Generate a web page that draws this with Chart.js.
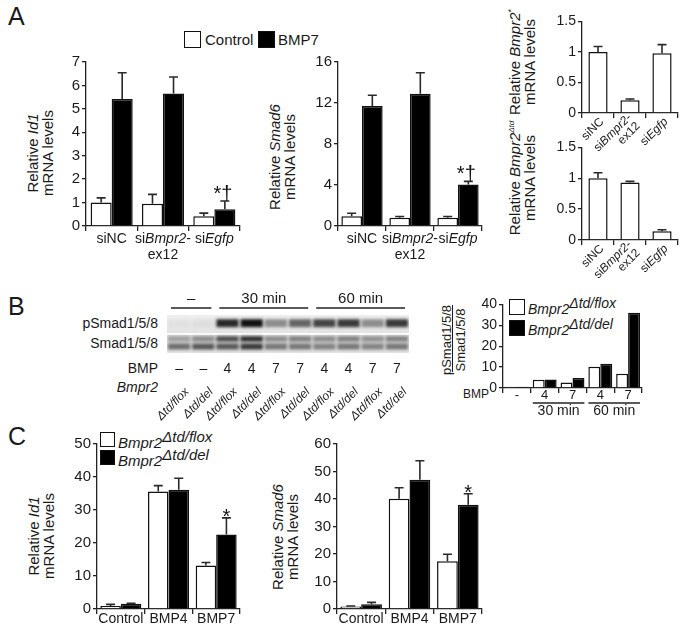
<!DOCTYPE html>
<html>
<head>
<meta charset="utf-8">
<script src="https://cdn.jsdelivr.net/npm/chart.js@4.4.0/dist/chart.umd.min.js"></script>
<style>
  body { margin: 0; background: #fff; width: 683px; height: 638px; position: relative; overflow: hidden;
         font-family: "Liberation Sans", Arial, sans-serif; color: #1a1a1a; }
  .box { position: absolute; }
  .txt { position: absolute; white-space: nowrap; font-size: 14px; line-height: 1; }
  .letter { position: absolute; font-size: 25px; line-height: 1; }
  .ytitle { position: absolute; white-space: nowrap; font-size: 15px; line-height: 15px; text-align: center;
            transform: translate(-50%, -50%) rotate(-90deg); }
  .sw { position: absolute; box-sizing: border-box; border: 1.5px solid #111; }
  .sup { position: relative; top: -6px; }
</style>
</head>
<body>

<div class="letter" style="left:8px;top:4px">A</div>
<div class="letter" style="left:8px;top:294px">B</div>
<div class="letter" style="left:8px;top:424px">C</div>

<!-- legend A -->
<div class="sw" style="left:184px;top:31px;width:17px;height:17px;background:#fff"></div>
<div class="txt" style="left:205px;top:32px;font-size:15px">Control</div>
<div class="sw" style="left:258px;top:31px;width:17px;height:17px;background:#000"></div>
<div class="txt" style="left:278px;top:32px;font-size:15px">BMP7</div>

<div class="ytitle" style="left:40px;top:153px">Relative <i>Id1</i><br>mRNA levels</div>
<div class="ytitle" style="left:282px;top:157px">Relative <i>Smad6</i><br>mRNA levels</div>
<div class="ytitle" style="left:520px;top:62px">Relative <i>Bmpr2</i><sup style="font-size:9px">*</sup><br>mRNA levels</div>
<div class="ytitle" style="left:520px;top:178px">Relative <i>Bmpr2</i><sup style="font-size:8px"><i>Δtd</i></sup><br>mRNA levels</div>

<div class="box" style="left:56px;top:51px;width:189px;height:220px"><canvas id="aId1"></canvas></div>
<div class="box" style="left:308px;top:51px;width:179px;height:220px"><canvas id="aSmad6"></canvas></div>
<div class="box" style="left:552px;top:11px;width:130px;height:142px"><canvas id="aStar"></canvas></div>
<div class="box" style="left:552px;top:137px;width:130px;height:143px"><canvas id="aTd"></canvas></div>

<!-- panel B -->
<div class="txt" style="right:525px;top:316px">pSmad1/5/8</div>
<div class="txt" style="right:525px;top:336px">Smad1/5/8</div>
<div class="txt" style="right:525px;top:361px">BMP</div>
<div class="txt" style="right:525px;top:380px"><i>Bmpr2</i></div>
<div class="box" style="left:150px;top:288px;width:270px;height:135px"><canvas id="blot"></canvas></div>

<div class="ytitle" style="left:454px;top:340px;font-size:13px;line-height:14px"><span style="text-decoration:underline">pSmad1/5/8</span><br>Smad1/5/8</div>
<div class="txt" style="left:463px;top:388px;font-size:12px">BMP</div>
<div class="sw" style="left:509px;top:299px;width:16px;height:16px;background:#fff"></div>
<div class="txt" style="left:528px;top:302px"><i>Bmpr2</i><span class="sup"><i>Δtd/flox</i></span></div>
<div class="sw" style="left:509px;top:320px;width:16px;height:16px;background:#000"></div>
<div class="txt" style="left:528px;top:323px"><i>Bmpr2</i><span class="sup"><i>Δtd/del</i></span></div>
<div class="box" style="left:473px;top:294px;width:174px;height:129px"><canvas id="bRatio"></canvas></div>

<!-- panel C -->
<div class="sw" style="left:100px;top:432px;width:15px;height:15px;background:#fff"></div>
<div class="txt" style="left:118px;top:435px;font-size:15px"><i>Bmpr2</i><span class="sup"><i>Δtd/flox</i></span></div>
<div class="sw" style="left:100px;top:450px;width:15px;height:15px;background:#000"></div>
<div class="txt" style="left:118px;top:453px;font-size:15px"><i>Bmpr2</i><span class="sup"><i>Δtd/del</i></span></div>
<div class="ytitle" style="left:41px;top:536px">Relative <i>Id1</i><br>mRNA levels</div>
<div class="ytitle" style="left:285px;top:537px">Relative <i>Smad6</i><br>mRNA levels</div>
<div class="box" style="left:67px;top:433px;width:178px;height:201px"><canvas id="cId1"></canvas></div>
<div class="box" style="left:307px;top:433px;width:180px;height:201px"><canvas id="cSmad6"></canvas></div>

<script>
// ---- data ----
const siLabels = ['siNC', 'si<i>Bmpr2</i>-|ex12', 'si<i>Egfp</i>'];

const id1Ctrl = [1.0, 0.95, 0.42];
const id1CtrlErr = [0.2, 0.4, 0.13];
const id1Bmp7 = [5.42, 5.66, 0.72];
const id1Bmp7Err = [1.12, 0.7, 0.35];
const id1Marks = ['', '', '*†'];

const smad6Ctrl = [0.95, 0.8, 0.8];
const smad6CtrlErr = [0.3, 0.12, 0.12];
const smad6Bmp7 = [11.7, 12.9, 4.05];
const smad6Bmp7Err = [1.05, 2.05, 0.3];
const smad6Marks = ['', '', '*†'];

const bmpr2Star = [1.0, 0.21, 0.98];
const bmpr2StarErr = [0.09, 0.02, 0.14];
const bmpr2Td = [1.0, 0.93, 0.14];
const bmpr2TdErr = [0.09, 0.02, 0.025];

const laneGenotype = ['Δtd/flox', 'Δtd/del', 'Δtd/flox', 'Δtd/del', 'Δtd/flox', 'Δtd/del',
                      'Δtd/flox', 'Δtd/del', 'Δtd/flox', 'Δtd/del'];
const laneBmp = ['–', '–', '4', '4', '7', '7', '4', '4', '7', '7'];
const laneGroups = [['–', 0, 1], ['30 min', 2, 5], ['60 min', 6, 9]];
const pSmadBand = [0.03, 0.05, 0.88, 0.98, 0.42, 0.6, 0.75, 0.8, 0.42, 0.8];
const smadUpper = [0.3, 0.4, 0.7, 0.85, 0.4, 0.45, 0.4, 0.45, 0.38, 0.45];
const smadLower = [0.55, 0.65, 0.65, 0.8, 0.5, 0.5, 0.45, 0.5, 0.45, 0.5];

const ratioLabels = ['-', '4', '7', '4', '7'];
const ratioGroups = [['30 min', 1, 2], ['60 min', 3, 4]];
const ratioFlox = [0.6, 4.0, 2.6, 10.2, 6.8];
const ratioDel = [0.6, 4.1, 4.8, 11.6, 36.0];

const cLabels = ['Control', 'BMP4', 'BMP7'];
const cId1Flox = [0.9, 35.6, 13.2];
const cId1FloxErr = [0.5, 1.8, 0.9];
const cId1Del = [1.6, 36.1, 22.6];
const cId1DelErr = [0.15, 3.5, 5.0];
const cId1Marks = ['', '', '*'];
const cSmad6Flox = [0.9, 40.1, 17.4];
const cSmad6FloxErr = [0.2, 4.0, 2.5];
const cSmad6Del = [1.7, 47.0, 37.9];
const cSmad6DelErr = [0.7, 6.9, 4.0];
const cSmad6Marks = ['', '', '*'];

// ---- helpers ----
const FAM = '"Liberation Sans", Arial, sans-serif';
Chart.defaults.font.family = FAM;
Chart.defaults.font.size = 14;
Chart.defaults.color = '#1a1a1a';
Chart.defaults.animation = false;
Chart.defaults.plugins.legend.display = false;
Chart.defaults.plugins.tooltip.enabled = false;

function fontStr(italic, size) {
  return (italic ? 'italic ' : '') + size + 'px ' + FAM;
}

function parseRich(line) {
  return line.split(/(<i>.*?<\/i>)/).filter(s => s).map(s =>
    s.startsWith('<i>') ? { t: s.slice(3, -4), i: true } : { t: s, i: false });
}

// draws a label with italic parts, anchored at 0,0 (centre, or right end when rotated)
function drawRich(ctx, text, size, lh, rightAlign, centreBlock, forceItalic) {
  const lines = text.split('|');
  const shift = centreBlock ? -(lines.length - 1) * lh / 2 : 0;
  ctx.textBaseline = 'middle';
  ctx.textAlign = 'left';
  lines.forEach((line, li) => {
    const segs = parseRich(line);
    let w = 0;
    segs.forEach(s => { ctx.font = fontStr(s.i || forceItalic, size); s.w = ctx.measureText(s.t).width; w += s.w; });
    let x = rightAlign ? -w : -w / 2;
    segs.forEach(s => {
      ctx.font = fontStr(s.i || forceItalic, size);
      ctx.fillText(s.t, x, shift + li * lh);
      x += s.w;
    });
  });
}

const errorBars = {
  id: 'errorBars',
  afterDatasetsDraw(chart) {
    const ctx = chart.ctx, ys = chart.scales.y;
    chart.data.datasets.forEach((ds, di) => {
      const meta = chart.getDatasetMeta(di);
      meta.data.forEach((bar, i) => {
        let top = bar.y;
        if (ds.errors) {
          top = ys.getPixelForValue(ds.data[i] + ds.errors[i]);
          ctx.save();
          ctx.strokeStyle = '#2a2a2a';
          ctx.lineWidth = 1.6;
          ctx.beginPath();
          ctx.moveTo(bar.x, bar.y);
          ctx.lineTo(bar.x, top);
          ctx.moveTo(bar.x - 4.5, top);
          ctx.lineTo(bar.x + 4.5, top);
          ctx.stroke();
          ctx.restore();
        }
        if (ds.marks && ds.marks[i]) {
          ctx.save();
          ctx.fillStyle = '#111';
          ctx.textAlign = 'center';
          ctx.textBaseline = 'alphabetic';
          const star = ds.marks[i] === '*';
          ctx.font = '20px ' + FAM;
          ctx.fillText(ds.marks[i], bar.x - (star ? 0 : 2), top + (star ? 5 : -1));
          ctx.restore();
        }
      });
    });
  }
};

function richLabels(o) {
  return {
    id: 'richLabels',
    afterDraw(chart) {
      const ctx = chart.ctx, xs = chart.scales.x, area = chart.chartArea;
      chart.data.labels.forEach((lab, i) => {
        ctx.save();
        ctx.fillStyle = '#1a1a1a';
        ctx.translate(xs.getPixelForValue(i) + (o.dx || 0), area.bottom + o.dy);
        if (o.rotate) ctx.rotate(o.rotate * Math.PI / 180);
        drawRich(ctx, lab, o.size, o.lh || 16, !!o.rotate, !!o.rotate, false);
        ctx.restore();
      });
    }
  };
}

function groupLines(groups, o) {
  return {
    id: 'groupLines',
    afterDraw(chart) {
      const ctx = chart.ctx, xs = chart.scales.x, area = chart.chartArea;
      const half = (xs.getPixelForValue(1) - xs.getPixelForValue(0)) / 2;
      const base = o.above ? area.top : area.bottom;
      groups.forEach(([label, a, b]) => {
        const x1 = xs.getPixelForValue(a) - half + o.inset;
        const x2 = xs.getPixelForValue(b) + half - o.inset;
        ctx.save();
        ctx.strokeStyle = '#222';
        ctx.lineWidth = 1.3;
        ctx.beginPath();
        ctx.moveTo(x1, base + o.lineDy);
        ctx.lineTo(x2, base + o.lineDy);
        ctx.stroke();
        ctx.fillStyle = '#1a1a1a';
        ctx.font = o.size + 'px ' + FAM;
        ctx.textAlign = 'center';
        ctx.textBaseline = 'middle';
        ctx.fillText(label, (x1 + x2) / 2, base + o.textDy);
        ctx.restore();
      });
    }
  };
}

function makeBars(id, cfg) {
  const datasets = cfg.series.map(s => ({
    data: s.data, errors: s.errors, marks: s.marks,
    backgroundColor: s.fill, borderColor: '#111', borderWidth: 1.5,
    barPercentage: cfg.barPct, categoryPercentage: cfg.catPct
  }));
  return new Chart(document.getElementById(id), {
    type: 'bar',
    data: { labels: cfg.labels, datasets },
    options: {
      responsive: true, maintainAspectRatio: false,
      layout: { padding: { top: 10, right: cfg.padRight, left: 0, bottom: 0 } },
      scales: {
        x: {
          ticks: { display: false },
          grid: { offset: true, drawOnChartArea: false, tickLength: 5, color: '#222', lineWidth: 1.3 },
          border: { color: '#222', width: 1.3 },
          afterFit: s => { s.height = cfg.xH; }
        },
        y: {
          min: 0, max: cfg.max,
          ticks: { stepSize: cfg.step, padding: 2, font: { size: cfg.tickSize || 14 },
                   callback: v => String(+v.toFixed(2)) },
          grid: { drawOnChartArea: false, tickLength: 4, color: '#222', lineWidth: 1.3 },
          border: { color: '#222', width: 1.3 },
          afterFit: s => { s.width = 30; }
        }
      }
    },
    plugins: [errorBars, ...(cfg.extra || [])]
  });
}

// ---- panel A ----
makeBars('aId1', {
  labels: siLabels, max: 7, step: 1, xH: 45, padRight: 5, catPct: 0.82, barPct: 1, tickSize: 15,
  series: [
    { data: id1Ctrl, errors: id1CtrlErr, fill: '#fff' },
    { data: id1Bmp7, errors: id1Bmp7Err, fill: '#000', marks: id1Marks }
  ],
  extra: [richLabels({ dy: 13, size: 14, lh: 16 })]
});

makeBars('aSmad6', {
  labels: siLabels, max: 16, step: 4, xH: 45, padRight: 5, catPct: 0.86, barPct: 1, tickSize: 15,
  series: [
    { data: smad6Ctrl, errors: smad6CtrlErr, fill: '#fff' },
    { data: smad6Bmp7, errors: smad6Bmp7Err, fill: '#000', marks: smad6Marks }
  ],
  extra: [richLabels({ dy: 13, size: 14, lh: 16 })]
});

makeBars('aStar', {
  labels: siLabels, max: 1.5, step: 0.5, xH: 40, padRight: 4, catPct: 1, barPct: 0.6,
  series: [{ data: bmpr2Star, errors: bmpr2StarErr, fill: '#fff' }],
  extra: [richLabels({ dx: 4, dy: 7, size: 12, lh: 12, rotate: -45 })]
});

makeBars('aTd', {
  labels: siLabels, max: 1.5, step: 0.5, xH: 40, padRight: 4, catPct: 1, barPct: 0.6,
  series: [{ data: bmpr2Td, errors: bmpr2TdErr, fill: '#fff' }],
  extra: [richLabels({ dx: 4, dy: 7, size: 12, lh: 12, rotate: -45 })]
});

// ---- panel B: blot ----
const blotDecor = {
  id: 'blotDecor',
  beforeDatasetsDraw(chart) {
    const ctx = chart.ctx, a = chart.chartArea;
    const mid = (a.top + a.bottom) / 2;
    ctx.save();
    let g = ctx.createLinearGradient(0, a.top, 0, mid);
    g.addColorStop(0, '#efefef'); g.addColorStop(1, '#e2e2e2');
    ctx.fillStyle = g;
    ctx.fillRect(a.left, a.top, a.right - a.left, mid - a.top - 1);
    g = ctx.createLinearGradient(0, mid, 0, a.bottom);
    g.addColorStop(0, '#dcdcdc'); g.addColorStop(1, '#e4e4e4');
    ctx.fillStyle = g;
    ctx.fillRect(a.left, mid + 1, a.right - a.left, a.bottom - mid - 1);
    ctx.restore();
    ctx.save();
    ctx.filter = 'blur(1.8px)';
  },
  afterDatasetsDraw(chart) {
    chart.ctx.restore();
  },
  afterDraw(chart) {
    const ctx = chart.ctx, xs = chart.scales.x, a = chart.chartArea;
    laneBmp.forEach((t, i) => {
      ctx.save();
      ctx.fillStyle = '#1a1a1a';
      ctx.font = '14px ' + FAM;
      ctx.textAlign = 'center';
      ctx.textBaseline = 'middle';
      ctx.fillText(t, xs.getPixelForValue(i), a.bottom + 16);
      ctx.restore();
    });
    laneGenotype.forEach((t, i) => {
      ctx.save();
      ctx.fillStyle = '#1a1a1a';
      ctx.translate(xs.getPixelForValue(i) + 8, a.bottom + 37);
      ctx.rotate(-Math.PI / 4);
      drawRich(ctx, t, 12, 12, true, false, true);
      ctx.restore();
    });
  }
};

const bandColor = arr => c => 'rgba(12,12,12,' + arr[c.dataIndex] + ')';
new Chart(document.getElementById('blot'), {
  type: 'bar',
  data: {
    labels: laneGenotype,
    datasets: [
      { data: laneGenotype.map(() => [1.36, 1.78]), backgroundColor: bandColor(pSmadBand) },
      { data: laneGenotype.map(() => [0.6, 0.88]), backgroundColor: bandColor(smadUpper) },
      { data: laneGenotype.map(() => [0.18, 0.5]), backgroundColor: bandColor(smadLower) }
    ]
  },
  options: {
    responsive: true, maintainAspectRatio: false,
    layout: { padding: { left: 17, top: 27, right: 11, bottom: 70 } },
    datasets: { bar: { grouped: false, barPercentage: 0.92, categoryPercentage: 1, borderWidth: 0 } },
    scales: { x: { display: false }, y: { display: false, min: 0, max: 2 } }
  },
  plugins: [blotDecor, groupLines(laneGroups, { above: true, inset: 4, lineDy: -7, textDy: -16, size: 15 })]
});

// ---- panel B: ratio ----
makeBars('bRatio', {
  labels: ratioLabels, max: 40, step: 10, xH: 35, padRight: 5, catPct: 0.86, barPct: 1, tickSize: 14,
  series: [
    { data: ratioFlox, fill: '#fff' },
    { data: ratioDel, fill: '#000' }
  ],
  extra: [richLabels({ dy: 7, size: 13 }),
          groupLines(ratioGroups, { above: false, inset: 2, lineDy: 15, textDy: 23, size: 14 })]
});

// ---- panel C ----
makeBars('cId1', {
  labels: cLabels, max: 50, step: 10, xH: 25, padRight: 5, catPct: 0.86, barPct: 1, tickSize: 15,
  series: [
    { data: cId1Flox, errors: cId1FloxErr, fill: '#fff' },
    { data: cId1Del, errors: cId1DelErr, fill: '#000', marks: cId1Marks }
  ],
  extra: [richLabels({ dy: 10, size: 14 })]
});

makeBars('cSmad6', {
  labels: cLabels, max: 60, step: 10, xH: 25, padRight: 5, catPct: 0.86, barPct: 1, tickSize: 15,
  series: [
    { data: cSmad6Flox, errors: cSmad6FloxErr, fill: '#fff' },
    { data: cSmad6Del, errors: cSmad6DelErr, fill: '#000', marks: cSmad6Marks }
  ],
  extra: [richLabels({ dy: 10, size: 14 })]
});
</script>
</body>
</html>
